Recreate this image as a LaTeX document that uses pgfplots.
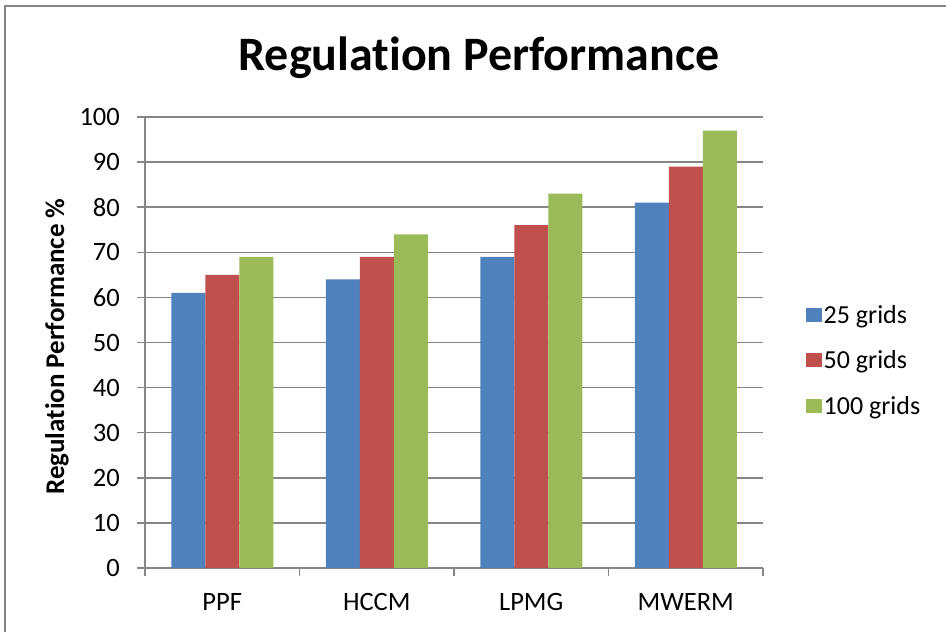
\documentclass[border=0pt]{standalone}
\usepackage{pgfplots}
\pgfplotsset{compat=1.18}
\usepackage{fontspec}
\setmainfont{Carlito}[Ligatures=NoCommon]
\definecolor{c1}{HTML}{4F81BD}
\definecolor{c2}{HTML}{C0504D}
\definecolor{c3}{HTML}{9BBB59}
\definecolor{axgray}{HTML}{868686}
\begin{document}
\begin{tikzpicture}[x=1pt,y=1pt]
\begin{axis}[
  at={(145pt,64pt)}, anchor=south west,
  width=618pt, height=451pt, scale only axis,
  ybar=0pt, bar width=34pt,
  ymin=0, ymax=100, ytick={0,10,...,100},
  xmin=-0.5, xmax=3.5,
  xtick={0,1,2,3}, xticklabels={PPF,HCCM,LPMG,MWERM},
  major x tick style={draw=none},
  minor xtick={-0.5,0.5,1.5,2.5,3.5},
  minor tick length=8pt, major tick length=8pt,
  tick align=outside,
  tick style={axgray, line width=1.5pt},
  axis x line*=bottom, axis y line*=left,
  axis line style={-, axgray, line width=1.5pt},
  ymajorgrids, grid style={axgray, line width=1.5pt},
  /pgf/number format/assume math mode=true,
  ticklabel style={font=\fontsize{26.5}{31}\selectfont},
  yticklabel style={anchor=east, inner sep=0pt, xshift=-17pt},
  xticklabel style={anchor=north, inner sep=0pt, yshift=-17pt},
  ylabel={Regulation Performance \%},
  ylabel style={at={(axis description cs:-0.1424,0.491)}, anchor=center, font=\bfseries\fontsize{27}{32}\selectfont},
  legend style={draw=none, at={(1,0.5)}, anchor=west, xshift=43pt, yshift=-18pt,
    font=\fontsize{26}{31}\selectfont, row sep=22pt, inner sep=0pt},
  legend cell align=left,
  mybar/.style={legend image code/.code={\fill[##1] (0pt,-7pt) rectangle (15.5pt,7pt);}},
]
\addplot[fill=c1, draw=none, mybar] coordinates {(0,61) (1,64) (2,69) (3,81)};
\addplot[fill=c2, draw=none, mybar] coordinates {(0,65) (1,69) (2,76) (3,89)};
\addplot[fill=c3, draw=none, mybar] coordinates {(0,69) (1,74) (2,83) (3,97)};
\legend{25 grids, 50 grids, 100 grids}
\end{axis}
\node[anchor=base, font=\bfseries\fontsize{48}{58}\selectfont] at (479pt,561pt) {Regulation Performance};
\draw[axgray, line width=1.5pt] (5pt,-10pt) -- (5pt,626pt) -- (960pt,626pt);
\pgfresetboundingbox
\path[use as bounding box] (0pt,0pt) rectangle (946pt,632pt);
\end{tikzpicture}
\end{document}
